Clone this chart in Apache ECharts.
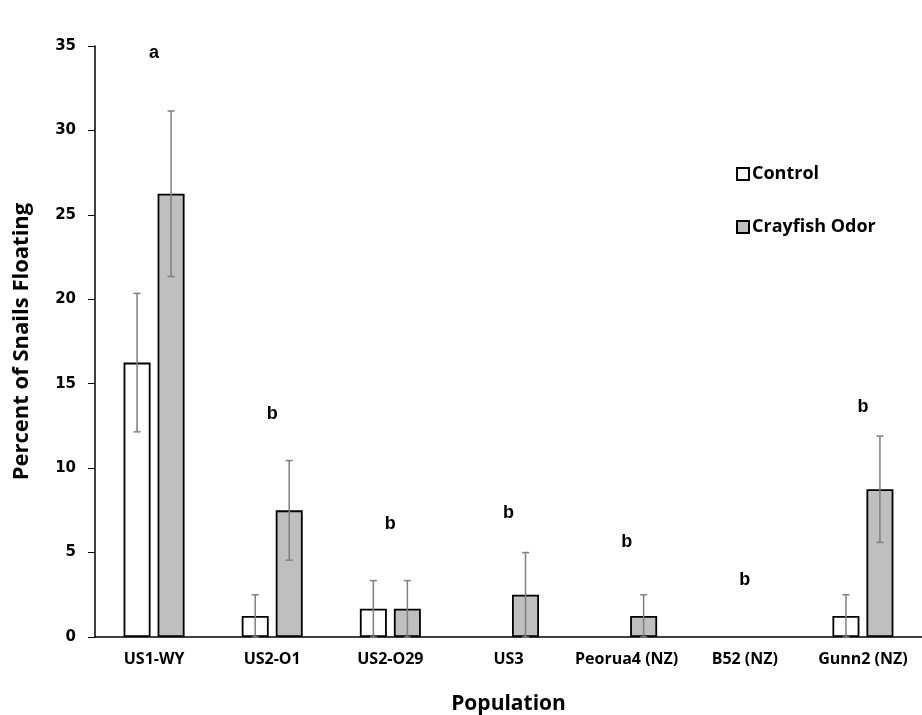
<!DOCTYPE html>
<html>
<head>
<meta charset="utf-8">
<script src="https://cdn.jsdelivr.net/npm/echarts@6/dist/echarts.min.js"></script>
<style>
html,body{margin:0;padding:0;background:#fff;}
#chart{width:922px;height:715px;}
</style>
</head>
<body>
<div id="chart"></div>
<script>
// ---- data ----
const categories = ['US1-WY', 'US2-O1', 'US2-O29', 'US3', 'Peorua4 (NZ)', 'B52 (NZ)', 'Gunn2 (NZ)'];
const controlValues = [16.25, 1.25, 1.67, 0, 0, 0, 1.25];
const controlErrors = [4.1, 1.25, 1.67, 0, 0, 0, 1.25];
const odorValues = [26.25, 7.5, 1.67, 2.5, 1.25, 0, 8.75];
const odorErrors = [4.9, 2.95, 1.67, 2.5, 1.25, 0, 3.15];
const letters = ['a', 'b', 'b', 'b', 'b', 'b', 'b'];
const letterHeights = [34.6, 13.2, 6.7, 7.35, 5.6, 3.37, 13.6];
const yTicks = { min: 0, max: 35, interval: 5 };

// ---- style ----
const BAR_W = 27;
const GAP_PX = 7;
const OFFSET = (BAR_W + GAP_PX) / 2;
const FONT = 'Open Sans';

function barData(values) {
  // zero-height bars are drawn without an outline, as in the reference
  return values.map(v => v === 0 ? { value: v, itemStyle: { borderWidth: 0 } } : v);
}

function errorSeries(values, errors, dx) {
  return {
    type: 'custom',
    silent: true,
    z: 5,
    data: values.map((v, i) => [i, v, errors[i]]).filter(d => d[2] > 0),
    renderItem: function (params, api) {
      const i = api.value(0), v = api.value(1), e = api.value(2);
      const top = api.coord([i, v + e]);
      const bot = api.coord([i, v - e]);
      const x = top[0] + dx;
      const cap = 3.5;
      const st = { stroke: '#7f7f7f', lineWidth: 1.5 };
      return {
        type: 'group',
        children: [
          { type: 'line', shape: { x1: x, y1: top[1], x2: x, y2: bot[1] }, style: st },
          { type: 'line', shape: { x1: x - cap, y1: top[1], x2: x + cap, y2: top[1] }, style: st },
          { type: 'line', shape: { x1: x - cap, y1: bot[1], x2: x + cap, y2: bot[1] }, style: st }
        ]
      };
    }
  };
}

const chart = echarts.init(document.getElementById('chart'), null, { renderer: 'canvas' });
chart.setOption({
  animation: false,
  backgroundColor: '#ffffff',
  grid: { left: 95, right: 0, top: 46, bottom: 78, containLabel: false, outerBoundsMode: 'none' },
  legend: {
    orient: 'vertical',
    left: 731,
    top: 160,
    itemWidth: 12,
    itemHeight: 12,
    itemGap: 35,
    icon: 'rect',
    data: ['Control', 'Crayfish Odor'],
    textStyle: { fontFamily: FONT, fontWeight: 'bold', fontSize: 18, color: '#000', padding: [0, 0, 0, -2] }
  },
  xAxis: {
    type: 'category',
    data: categories,
    name: 'Population',
    nameLocation: 'middle',
    nameGap: 57,
    nameTextStyle: { fontFamily: FONT, fontWeight: 'bold', fontSize: 21, color: '#000' },
    axisLine: { lineStyle: { color: '#000', width: 1.5 } },
    axisTick: { show: false },
    axisLabel: { interval: 0, fontFamily: FONT, fontWeight: 'bold', fontSize: 16, color: '#000', margin: 14 },
    splitLine: { show: false }
  },
  yAxis: {
    type: 'value',
    min: yTicks.min,
    max: yTicks.max,
    interval: yTicks.interval,
    name: 'Percent of Snails Floating',
    nameLocation: 'middle',
    nameRotate: 90,
    nameGap: 62,
    nameTextStyle: { fontFamily: FONT, fontWeight: 'bold', fontSize: 22, color: '#000' },
    axisLine: { show: true, lineStyle: { color: '#000', width: 1.5 } },
    axisTick: { show: true, length: 7, lineStyle: { color: '#000', width: 1 } },
    axisLabel: { fontFamily: 'DejaVu Sans', fontWeight: 'bold', fontSize: 15, color: '#000', margin: 19 },
    splitLine: { show: false }
  },
  series: [
    {
      name: 'Control',
      type: 'bar',
      data: barData(controlValues),
      barWidth: BAR_W,
      barGap: (GAP_PX / BAR_W * 100) + '%',
      itemStyle: { color: '#ffffff', borderColor: '#000', borderWidth: 1.8 }
    },
    {
      name: 'Crayfish Odor',
      type: 'bar',
      data: barData(odorValues),
      barWidth: BAR_W,
      itemStyle: { color: '#bfbfbf', borderColor: '#000', borderWidth: 1.8 }
    },
    errorSeries(controlValues, controlErrors, -OFFSET),
    errorSeries(odorValues, odorErrors, OFFSET),
    {
      type: 'scatter',
      silent: true,
      symbolSize: 0,
      itemStyle: { opacity: 1 },
      data: letters.map((l, i) => [i, letterHeights[i], l]),
      label: {
        show: true,
        position: 'inside',
        formatter: p => p.value[2],
        fontFamily: 'Liberation Sans',
        fontWeight: 'bold',
        fontSize: 18,
        color: '#000',
        opacity: 1
      }
    }
  ]
});
</script>
</body>
</html>
